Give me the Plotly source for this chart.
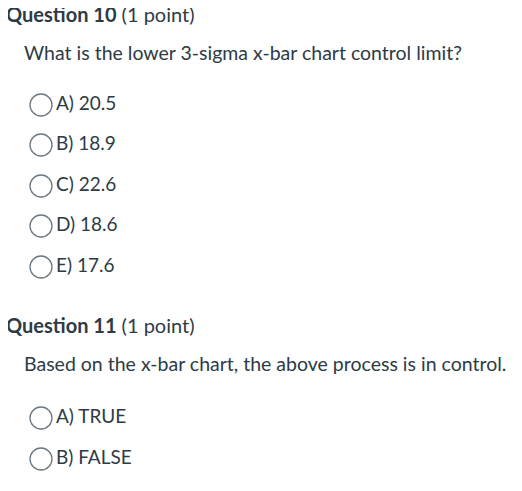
import plotly.graph_objects as go

# quiz content
titles = ["Question 10", "Question 11"]
points = [" (1 point)", " (1 point)"]
prompts = ["What is the lower 3-sigma x-bar chart control limit?",
           "Based on the x-bar chart, the above process is in control."]
options_q10 = ["A) 20.5", "B) 18.9", "C) 22.6", "D) 18.6", "E) 17.6"]
options_q11 = ["A) TRUE", "B) FALSE"]

# pixel rows of each line
title_y = [9, 320]
prompt_y = [47, 358]
opt_y = [[97, 137, 178, 218, 259], [410, 451]]

font = "Lato, Open Sans, sans-serif"
ink = "#2d3b45"

fig = go.Figure()
fig.add_trace(go.Scatter(
    x=[-2, -2], y=title_y, mode="text",
    text=[f"<b>{t}</b>{p}" for t, p in zip(titles, points)],
    textposition="middle right",
    textfont=dict(family=font, size=20, color=ink)))
fig.add_trace(go.Scatter(
    x=[16, 16], y=prompt_y, mode="text", text=prompts,
    textposition="middle right",
    textfont=dict(family=font, size=19.5, color=ink)))

for opts, ys in zip([options_q10, options_q11], opt_y):
    fig.add_trace(go.Scatter(
        x=[33] * len(opts), y=ys, mode="markers",
        marker=dict(symbol="circle", size=22, color="white",
                    line=dict(color="#6b7780", width=1.3))))
    fig.add_trace(go.Scatter(
        x=[48] * len(opts), y=ys, mode="text", text=opts,
        textposition="middle right",
        textfont=dict(family=font, size=19, color=ink)))

fig.update_xaxes(range=[0, 522], visible=False)
fig.update_yaxes(range=[491, 0], visible=False)
fig.update_layout(width=522, height=491, margin=dict(l=0, r=0, t=0, b=0),
                  showlegend=False, plot_bgcolor="white", paper_bgcolor="white")
fig.write_html("out.html")
